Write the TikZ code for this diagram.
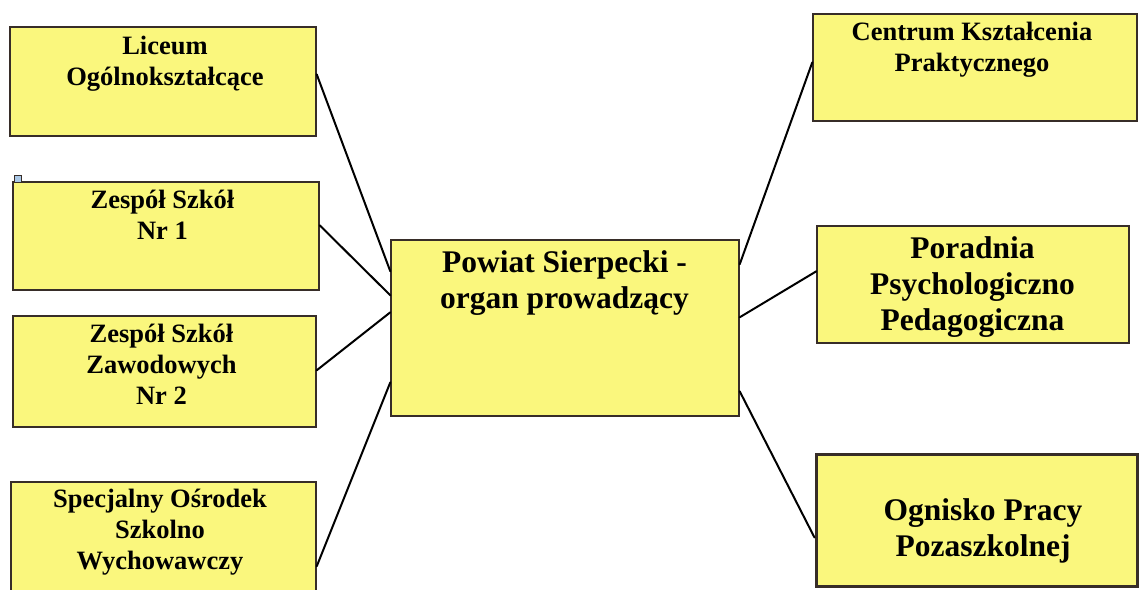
\documentclass[tikz,border=0pt]{standalone}
\usepackage{fontspec}
\setmainfont{Liberation Serif}
\usetikzlibrary{calc}

\definecolor{boxyellow}{RGB}{250,247,125}
\definecolor{boxline}{RGB}{55,45,40}
\definecolor{handleblue}{RGB}{170,200,230}

\begin{document}
\begin{tikzpicture}[x=1pt,y=-1pt,
		unit/.style={draw=boxline,line width=1.4pt,fill=boxyellow,inner sep=0pt},
		small/.style={font=\fontsize{26.5}{31}\selectfont\bfseries,align=center,anchor=north,inner sep=0pt},
		big/.style={font=\fontsize{31.5}{36}\selectfont\bfseries,align=center,anchor=north,inner sep=0pt},
		link/.style={line width=2pt,line cap=round}]
		\useasboundingbox (0,0) rectangle (1139,589);
		%Schools on the left
			\node[unit,minimum width=306pt,minimum height=109pt] (lic) at (163,81.5) {};
			\node[unit,minimum width=306pt,minimum height=108pt] (zs1) at (166,236) {};
			\node[unit,minimum width=303pt,minimum height=111pt] (zsz) at (164.5,371.5) {};
			\node[unit,minimum width=305pt,minimum height=118pt] (sos) at (163.5,541) {};
		%Selection handle
			\draw[draw=boxline,fill=handleblue,line width=1pt] (14,175) rectangle (21,182);
		%Organ
			\node[unit,minimum width=348pt,minimum height=176pt] (org) at (565,328) {};
		%Units on the right
			\node[unit,minimum width=324pt,minimum height=107pt] (ckp) at (975,67.5) {};
			\node[unit,minimum width=312pt,minimum height=117pt] (ppp) at (973,284.5) {};
			\node[unit,line width=3pt,minimum width=321pt,minimum height=132pt] (opp) at (976.5,520) {};
		%Texts
			\node[small] (lictxt) at (165,35.7) {Liceum\\Ogólnokształcące};
			\node[small] (zs1txt) at (162.5,190) {Zespół Szkół\\Nr 1};
			\node[small] (zsztxt) at (161.5,324) {Zespół Szkół\\Zawodowych\\Nr 2};
			\node[small] (sostxt) at (160,489) {Specjalny Ośrodek\\Szkolno\\Wychowawczy};
			\node[big] (orgtxt) at (564.5,250.3) {Powiat Sierpecki -\\organ prowadzący};
			\node[small] (ckptxt) at (972,22) {Centrum Kształcenia\\Praktycznego};
			\node[big] (ppptxt) at (972.5,236.3) {Poradnia\\Psychologiczno\\Pedagogiczna};
			\node[big] (opptxt) at (983,498.3) {Ognisko Pracy\\Pozaszkolnej};
		%Links
			\draw[link] ($(lic.north east)+(0,48)$) -- ($(org.north west)+(0,32)$);
			\draw[link] ($(zs1.north east)+(0,44)$) -- ($(org.north west)+(0,56)$);
			\draw[link] ($(zsz.north east)+(0,55)$) -- ($(org.north west)+(0,73)$);
			\draw[link] ($(sos.north east)+(0,85)$) -- ($(org.north west)+(0,143)$);
			\draw[link] ($(org.north east)+(0,25)$) -- ($(ckp.north west)+(0,49)$);
			\draw[link] ($(org.north east)+(0,78)$) -- ($(ppp.north west)+(0,46)$);
			\draw[link] ($(org.north east)+(0,152)$) -- ($(opp.north west)+(0,85)$);
	\end{tikzpicture}
\end{document}
